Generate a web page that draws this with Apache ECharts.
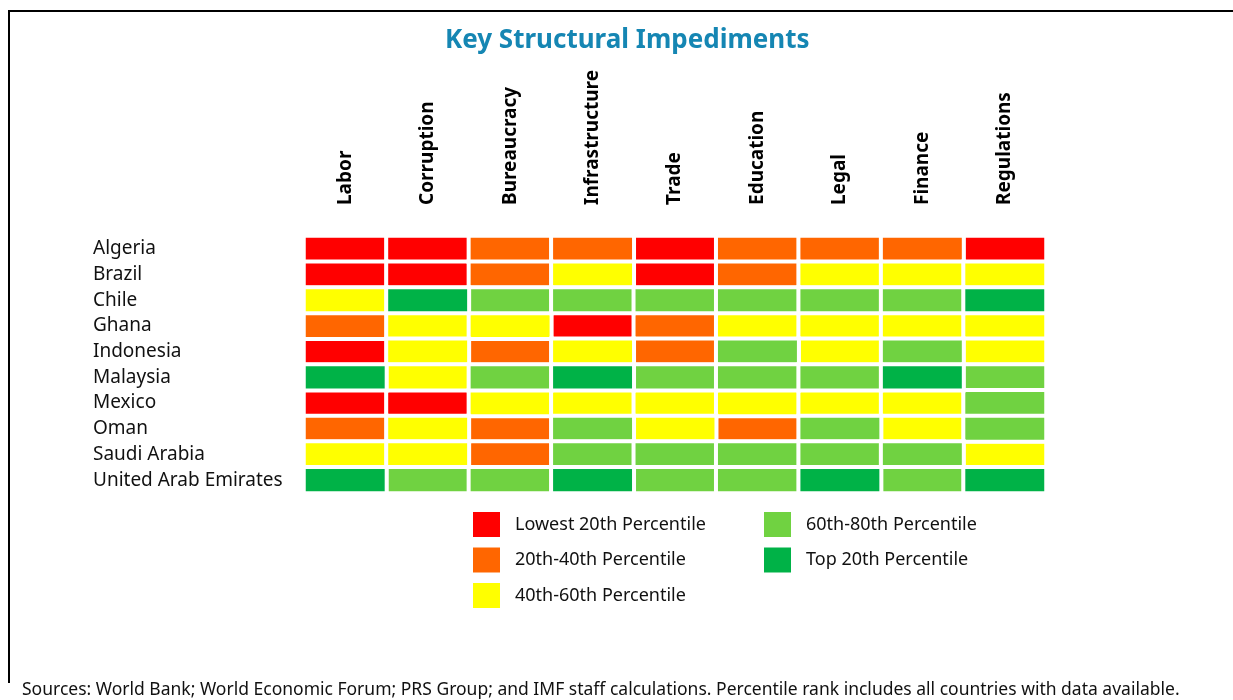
<!DOCTYPE html>
<html>
<head>
<meta charset="utf-8">
<script src="https://cdn.jsdelivr.net/npm/echarts@6/dist/echarts.min.js"></script>
<style>
  html, body { margin: 0; padding: 0; background: #fff; }
  #chart { width: 1233px; height: 700px; }
</style>
</head>
<body>
<div id="chart"></div>
<script>
// columns (impediments) and rows (countries)
const impediments = ['Labor', 'Corruption', 'Bureaucracy', 'Infrastructure', 'Trade', 'Education', 'Legal', 'Finance', 'Regulations'];
const countries = ['Algeria', 'Brazil', 'Chile', 'Ghana', 'Indonesia', 'Malaysia', 'Mexico', 'Oman', 'Saudi Arabia', 'United Arab Emirates'];

// percentile bucket: 1 = lowest 20th ... 5 = top 20th
const algeria   = [1, 1, 2, 2, 1, 2, 2, 2, 1];
const brazil    = [1, 1, 2, 3, 1, 2, 3, 3, 3];
const chile     = [3, 5, 4, 4, 4, 4, 4, 4, 5];
const ghana     = [2, 3, 3, 1, 2, 3, 3, 3, 3];
const indonesia = [1, 3, 2, 3, 2, 4, 3, 4, 3];
const malaysia  = [5, 3, 4, 5, 4, 4, 4, 5, 4];
const mexico    = [1, 1, 3, 3, 3, 3, 3, 3, 4];
const oman      = [2, 3, 2, 4, 3, 2, 4, 3, 4];
const saudi     = [3, 3, 2, 4, 4, 4, 4, 4, 3];
const uae       = [5, 4, 4, 5, 4, 4, 5, 4, 5];
const levels = [algeria, brazil, chile, ghana, indonesia, malaysia, mexico, oman, saudi, uae];

const bucketNames = ['Lowest 20th Percentile', '20th-40th Percentile', '40th-60th Percentile', '60th-80th Percentile', 'Top 20th Percentile'];
const bucketColors = ['#ff0000', '#ff6600', '#ffff00', '#70d241', '#00b247'];

const FONT = 'Noto Sans';

// one heatmap series per bucket so the legend can show each colour
const series = bucketNames.map(function (name, b) {
  const data = [];
  levels.forEach(function (row, r) {
    row.forEach(function (v, c) {
      if (v === b + 1) data.push([c, r, v]);
    });
  });
  return {
    name: name,
    type: 'heatmap',
    data: data,
    itemStyle: { color: bucketColors[b], borderColor: '#fff', borderWidth: 4 },
    emphasis: { disabled: true }
  };
});

const legendBase = {
  orient: 'vertical',
  top: 510,
  padding: 0,
  icon: 'rect', itemWidth: 29, itemHeight: 27, itemGap: 6.5,
  selectedMode: false,
  textStyle: { fontFamily: FONT, fontSize: 18, color: '#111', padding: [0, 0, 0, 9] }
};

const chart = echarts.init(document.getElementById('chart'));
chart.setOption({
  animation: false,
  backgroundColor: '#fff',
  color: bucketColors,
  title: [
    {
      text: 'Key Structural Impediments',
      left: 440,
      top: 23,
      textStyle: { fontFamily: FONT, fontSize: 26, fontWeight: 'bold', color: '#1586b3' }
    },
    {
      text: 'Sources: World Bank; World Economic Forum; PRS Group; and IMF staff calculations. Percentile rank includes all countries with data available.',
      left: 17,
      top: 676,
      textStyle: { fontFamily: FONT, fontSize: 17.5, fontWeight: 'normal', color: '#111' }
    }
  ],
  tooltip: { show: false },
  grid: { left: 304, top: 236, width: 742, height: 257 },
  xAxis: {
    type: 'category',
    position: 'top',
    data: impediments,
    axisLine: { show: false },
    axisTick: { show: false },
    splitLine: { show: false },
    axisLabel: { rotate: -90, margin: 31, fontFamily: FONT, fontSize: 19, fontWeight: 'bold', color: '#000' }
  },
  yAxis: {
    type: 'category',
    inverse: true,
    data: countries,
    axisLine: { show: false },
    axisTick: { show: false },
    splitLine: { show: false },
    axisLabel: { align: 'left', margin: 211, padding: [0, 0, 4, 0], fontFamily: FONT, fontSize: 19, color: '#111' }
  },
  legend: [
    Object.assign({}, legendBase, { data: bucketNames.slice(0, 3), left: 471 }),
    Object.assign({}, legendBase, { data: bucketNames.slice(3), left: 762 })
  ],
  graphic: [
    {
      type: 'polyline',
      shape: { points: [[9, 683], [9, 11], [1233, 11]] },
      style: { stroke: '#000', lineWidth: 2, fill: null }
    }
  ],
  series: series
});
</script>
</body>
</html>
